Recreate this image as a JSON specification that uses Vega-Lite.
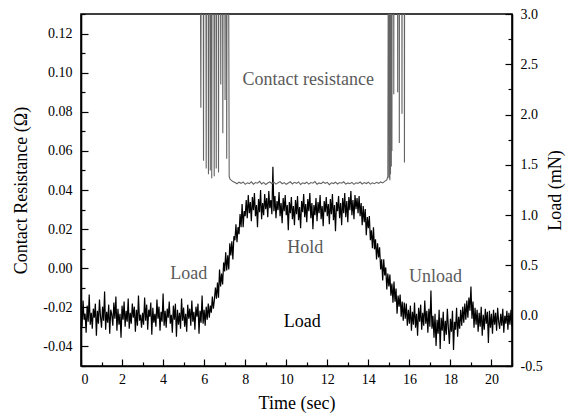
{
"$schema":"https://vega.github.io/schema/vega-lite/v6.json",
"width":431,"height":352,
"padding":{"left":12,"top":7,"right":3,"bottom":3},
"config":{
 "view":{"stroke":"black","strokeWidth":1.6},
 "font":"Liberation Serif",
 "axis":{"labelFont":"Liberation Serif","titleFont":"Liberation Serif","labelFontSize":14,"titleFontSize":18,"titleFontWeight":"normal","labelColor":"black","titleColor":"black","domainColor":"black","domainWidth":1.6,"tickColor":"black","tickWidth":1.2,"grid":false,"labelBound":false,"labelOverlap":false}
},
"datasets":{
"load":[
{"t":0.00,"L":0.08},{"t":0.05,"L":-0.11},{"t":0.10,"L":0.15},{"t":0.15,"L":-0.04},{"t":0.20,"L":0.02},{"t":0.25,"L":-0.17},{"t":0.30,"L":0.10},{"t":0.35,"L":-0.06},{"t":0.40,"L":0.21},{"t":0.45,"L":-0.09},
{"t":0.50,"L":0.03},{"t":0.55,"L":-0.13},{"t":0.60,"L":0.07},{"t":0.65,"L":-0.02},{"t":0.70,"L":0.12},{"t":0.75,"L":-0.20},{"t":0.80,"L":0.05},{"t":0.85,"L":-0.08},{"t":0.90,"L":0.16},{"t":0.95,"L":-0.01},
{"t":1.00,"L":-0.12},{"t":1.05,"L":0.09},{"t":1.10,"L":-0.05},{"t":1.15,"L":0.24},{"t":1.20,"L":-0.14},{"t":1.25,"L":0.04},{"t":1.30,"L":-0.07},{"t":1.35,"L":0.11},{"t":1.40,"L":-0.18},{"t":1.45,"L":0.06},
{"t":1.50,"L":0.01},{"t":1.55,"L":-0.10},{"t":1.60,"L":0.13},{"t":1.65,"L":-0.03},{"t":1.70,"L":0.19},{"t":1.75,"L":-0.15},{"t":1.80,"L":0.07},{"t":1.85,"L":-0.09},{"t":1.90,"L":0.02},{"t":1.95,"L":-0.22},
{"t":2.00,"L":0.10},{"t":2.05,"L":-0.04},{"t":2.10,"L":0.14},{"t":2.15,"L":-0.11},{"t":2.20,"L":0.05},{"t":2.25,"L":-0.06},{"t":2.30,"L":0.17},{"t":2.35,"L":-0.13},{"t":2.40,"L":0.03},{"t":2.45,"L":-0.08},
{"t":2.50,"L":0.12},{"t":2.55,"L":-0.02},{"t":2.60,"L":0.09},{"t":2.65,"L":-0.16},{"t":2.70,"L":0.06},{"t":2.75,"L":-0.10},{"t":2.80,"L":0.20},{"t":2.85,"L":-0.05},{"t":2.90,"L":0.01},{"t":2.95,"L":-0.12},
{"t":3.00,"L":0.03},{"t":3.05,"L":-0.09},{"t":3.10,"L":0.18},{"t":3.15,"L":-0.05},{"t":3.20,"L":0.11},{"t":3.25,"L":-0.14},{"t":3.30,"L":0.06},{"t":3.35,"L":-0.01},{"t":3.40,"L":0.13},{"t":3.45,"L":-0.19},
{"t":3.50,"L":0.08},{"t":3.55,"L":-0.07},{"t":3.60,"L":0.02},{"t":3.65,"L":-0.11},{"t":3.70,"L":0.16},{"t":3.75,"L":-0.03},{"t":3.80,"L":0.09},{"t":3.85,"L":-0.15},{"t":3.90,"L":0.04},{"t":3.95,"L":-0.06},
{"t":4.00,"L":0.22},{"t":4.05,"L":-0.10},{"t":4.10,"L":0.05},{"t":4.15,"L":-0.12},{"t":4.20,"L":0.07},{"t":4.25,"L":-0.02},{"t":4.30,"L":0.14},{"t":4.35,"L":-0.08},{"t":4.40,"L":0.01},{"t":4.45,"L":-0.17},
{"t":4.50,"L":0.10},{"t":4.55,"L":-0.04},{"t":4.60,"L":0.12},{"t":4.65,"L":-0.21},{"t":4.70,"L":0.06},{"t":4.75,"L":-0.09},{"t":4.80,"L":0.03},{"t":4.85,"L":-0.13},{"t":4.90,"L":0.17},{"t":4.95,"L":-0.05},
{"t":5.00,"L":0.08},{"t":5.05,"L":-0.11},{"t":5.10,"L":0.02},{"t":5.15,"L":-0.16},{"t":5.20,"L":0.11},{"t":5.25,"L":-0.03},{"t":5.30,"L":0.07},{"t":5.35,"L":-0.10},{"t":5.40,"L":0.15},{"t":5.45,"L":-0.06},
{"t":5.50,"L":0.04},{"t":5.55,"L":-0.14},{"t":5.60,"L":0.09},{"t":5.65,"L":-0.01},{"t":5.70,"L":0.12},{"t":5.75,"L":-0.18},{"t":5.80,"L":0.05},{"t":5.85,"L":-0.07},{"t":5.90,"L":0.20},{"t":5.95,"L":-0.08},
{"t":6.00,"L":0.06},{"t":6.05,"L":-0.10},{"t":6.10,"L":0.09},{"t":6.15,"L":-0.04},{"t":6.20,"L":0.12},{"t":6.25,"L":-0.02},{"t":6.30,"L":0.10},
{"t":6.35,"L":0.03},{"t":6.40,"L":0.19},{"t":6.45,"L":0.07},{"t":6.50,"L":0.16},{"t":6.55,"L":0.28},{"t":6.60,"L":0.17},{"t":6.65,"L":0.33},{"t":6.70,"L":0.18},
{"t":6.75,"L":0.46},{"t":6.80,"L":0.29},{"t":6.85,"L":0.42},{"t":6.90,"L":0.31},{"t":6.95,"L":0.53},{"t":7.00,"L":0.44},{"t":7.05,"L":0.63},{"t":7.10,"L":0.45},{"t":7.15,"L":0.60},{"t":7.20,"L":0.46},
{"t":7.25,"L":0.72},{"t":7.30,"L":0.60},{"t":7.35,"L":0.74},{"t":7.40,"L":0.56},{"t":7.45,"L":0.79},{"t":7.50,"L":0.75},{"t":7.55,"L":0.91},{"t":7.60,"L":0.73},{"t":7.65,"L":0.88},{"t":7.70,"L":0.81},
{"t":7.75,"L":1.01},{"t":7.80,"L":0.88},{"t":7.85,"L":1.11},{"t":7.90,"L":0.88},{"t":7.95,"L":1.04},{"t":8.00,"L":0.99},
{"t":8.05,"L":1.15},{"t":8.10,"L":0.97},{"t":8.15,"L":1.20},{"t":8.20,"L":1.02},{"t":8.25,"L":1.13},{"t":8.30,"L":0.94},{"t":8.35,"L":1.18},{"t":8.40,"L":1.05},{"t":8.45,"L":1.22},{"t":8.50,"L":0.99},
{"t":8.55,"L":1.10},{"t":8.60,"L":0.88},{"t":8.65,"L":1.16},{"t":8.70,"L":1.03},{"t":8.75,"L":1.25},{"t":8.80,"L":0.96},{"t":8.85,"L":1.12},{"t":8.90,"L":1.00},{"t":8.95,"L":1.21},{"t":9.00,"L":1.06},
{"t":9.05,"L":1.17},{"t":9.10,"L":0.98},{"t":9.15,"L":1.24},{"t":9.20,"L":1.07},{"t":9.25,"L":1.15},{"t":9.30,"L":1.01},{"t":9.35,"L":1.48},{"t":9.40,"L":1.04},{"t":9.45,"L":1.19},{"t":9.50,"L":0.97},
{"t":9.55,"L":1.14},{"t":9.60,"L":1.05},{"t":9.65,"L":1.23},{"t":9.70,"L":0.99},{"t":9.75,"L":1.12},{"t":9.80,"L":0.92},{"t":9.85,"L":1.17},{"t":9.90,"L":1.04},{"t":9.95,"L":1.20},{"t":10.00,"L":1.00},
{"t":10.05,"L":1.10},{"t":10.10,"L":0.85},{"t":10.15,"L":1.13},{"t":10.20,"L":1.02},{"t":10.25,"L":1.18},{"t":10.30,"L":0.96},{"t":10.35,"L":1.09},{"t":10.40,"L":0.90},{"t":10.45,"L":1.15},{"t":10.50,"L":1.01},
{"t":10.55,"L":1.19},{"t":10.60,"L":0.95},{"t":10.65,"L":1.08},{"t":10.70,"L":0.87},{"t":10.75,"L":1.14},{"t":10.80,"L":1.03},{"t":10.85,"L":1.21},{"t":10.90,"L":0.98},{"t":10.95,"L":1.11},{"t":11.00,"L":0.93},
{"t":11.05,"L":1.16},{"t":11.10,"L":1.04},{"t":11.15,"L":1.22},{"t":11.20,"L":0.97},{"t":11.25,"L":1.12},{"t":11.30,"L":0.86},{"t":11.35,"L":1.10},{"t":11.40,"L":1.00},{"t":11.45,"L":1.17},{"t":11.50,"L":0.94},
{"t":11.55,"L":1.13},{"t":11.60,"L":1.02},{"t":11.65,"L":1.20},{"t":11.70,"L":0.96},{"t":11.75,"L":1.09},{"t":11.80,"L":0.89},{"t":11.85,"L":1.14},{"t":11.90,"L":1.03},{"t":11.95,"L":1.18},{"t":12.00,"L":0.99},
{"t":12.05,"L":1.11},{"t":12.10,"L":0.91},{"t":12.15,"L":1.16},{"t":12.20,"L":1.01},{"t":12.25,"L":1.21},{"t":12.30,"L":0.95},{"t":12.35,"L":1.10},{"t":12.40,"L":0.84},{"t":12.45,"L":1.13},{"t":12.50,"L":1.04},
{"t":12.55,"L":1.19},{"t":12.60,"L":0.97},{"t":12.65,"L":1.12},{"t":12.70,"L":0.90},{"t":12.75,"L":1.17},{"t":12.80,"L":1.02},{"t":12.85,"L":1.22},{"t":12.90,"L":0.98},{"t":12.95,"L":1.14},{"t":13.00,"L":0.93},
{"t":13.05,"L":1.18},{"t":13.10,"L":1.05},{"t":13.15,"L":1.24},{"t":13.20,"L":1.00},{"t":13.25,"L":1.15},{"t":13.30,"L":0.96},{"t":13.35,"L":1.20},{"t":13.40,"L":1.06},{"t":13.45,"L":1.17},
{"t":13.50,"L":1.02},{"t":13.55,"L":1.19},{"t":13.60,"L":0.99},{"t":13.65,"L":1.12},{"t":13.70,"L":0.90},{"t":13.75,"L":1.09},{"t":13.80,"L":0.93},{"t":13.85,"L":1.06},{"t":13.90,"L":0.80},{"t":13.95,"L":0.98},
{"t":14.00,"L":0.87},{"t":14.05,"L":0.99},{"t":14.10,"L":0.75},{"t":14.15,"L":0.85},{"t":14.20,"L":0.67},{"t":14.25,"L":0.88},{"t":14.30,"L":0.66},{"t":14.35,"L":0.76},{"t":14.40,"L":0.56},{"t":14.45,"L":0.72},
{"t":14.50,"L":0.58},{"t":14.55,"L":0.68},{"t":14.60,"L":0.46},{"t":14.65,"L":0.56},{"t":14.70,"L":0.35},{"t":14.75,"L":0.56},{"t":14.80,"L":0.40},{"t":14.85,"L":0.48},{"t":14.90,"L":0.26},{"t":14.95,"L":0.42},
{"t":15.00,"L":0.29},{"t":15.05,"L":0.41},{"t":15.10,"L":0.20},{"t":15.15,"L":0.32},{"t":15.20,"L":0.13},{"t":15.25,"L":0.34},{"t":15.30,"L":0.14},{"t":15.35,"L":0.27},{"t":15.40,"L":0.02},{"t":15.45,"L":0.20},
{"t":15.50,"L":0.09},{"t":15.55,"L":0.21},{"t":15.60,"L":-0.01},{"t":15.65,"L":0.14},{"t":15.70,"L":-0.05},{"t":15.75,"L":0.13},{"t":15.80,"L":-0.03},{"t":15.85,"L":0.12},{"t":15.90,"L":-0.10},{"t":15.95,"L":0.06},
{"t":16.00,"L":-0.08},{"t":16.05,"L":0.10},{"t":16.10,"L":-0.15},{"t":16.15,"L":0.04},{"t":16.20,"L":-0.09},{"t":16.25,"L":0.13},{"t":16.30,"L":-0.12},{"t":16.35,"L":0.02},{"t":16.40,"L":-0.20},{"t":16.45,"L":0.08},
{"t":16.50,"L":-0.06},{"t":16.55,"L":0.11},{"t":16.60,"L":-0.14},{"t":16.65,"L":0.03},{"t":16.70,"L":-0.10},{"t":16.75,"L":0.15},{"t":16.80,"L":-0.08},{"t":16.85,"L":0.05},{"t":16.90,"L":-0.17},{"t":16.95,"L":0.07},
{"t":17.00,"L":-0.11},{"t":17.05,"L":0.25},{"t":17.10,"L":-0.13},{"t":17.15,"L":0.00},{"t":17.20,"L":-0.22},{"t":17.25,"L":0.02},{"t":17.30,"L":-0.30},{"t":17.35,"L":-0.04},{"t":17.40,"L":-0.18},{"t":17.45,"L":0.06},
{"t":17.50,"L":-0.33},{"t":17.55,"L":-0.02},{"t":17.60,"L":-0.15},{"t":17.65,"L":0.04},{"t":17.70,"L":-0.25},{"t":17.75,"L":-0.05},{"t":17.80,"L":-0.19},{"t":17.85,"L":0.07},{"t":17.90,"L":-0.12},{"t":17.95,"L":-0.28},
{"t":18.00,"L":-0.03},{"t":18.05,"L":-0.16},{"t":18.10,"L":0.05},{"t":18.15,"L":-0.34},{"t":18.20,"L":-0.06},{"t":18.25,"L":-0.14},{"t":18.30,"L":0.08},{"t":18.35,"L":-0.21},{"t":18.40,"L":-0.01},{"t":18.45,"L":-0.13},
{"t":18.50,"L":0.06},{"t":18.55,"L":-0.10},{"t":18.60,"L":0.09},{"t":18.65,"L":-0.07},{"t":18.70,"L":0.12},{"t":18.75,"L":-0.04},{"t":18.80,"L":0.15},{"t":18.85,"L":-0.02},{"t":18.90,"L":0.18},{"t":18.95,"L":0.05},
{"t":19.00,"L":0.29},{"t":19.05,"L":-0.03},{"t":19.10,"L":0.14},{"t":19.15,"L":-0.12},{"t":19.20,"L":0.08},{"t":19.25,"L":-0.09},{"t":19.30,"L":0.06},{"t":19.35,"L":-0.16},{"t":19.40,"L":0.03},{"t":19.45,"L":-0.11},
{"t":19.50,"L":0.09},{"t":19.55,"L":-0.20},{"t":19.60,"L":0.01},{"t":19.65,"L":-0.14},{"t":19.70,"L":0.07},{"t":19.75,"L":-0.08},{"t":19.80,"L":0.04},{"t":19.85,"L":-0.27},{"t":19.90,"L":0.05},{"t":19.95,"L":-0.12},
{"t":20.00,"L":0.02},{"t":20.05,"L":-0.18},{"t":20.10,"L":0.06},{"t":20.15,"L":-0.09},{"t":20.20,"L":0.03},{"t":20.25,"L":-0.15},{"t":20.30,"L":0.08},{"t":20.35,"L":-0.06},{"t":20.40,"L":-0.13},{"t":20.45,"L":0.02},
{"t":20.50,"L":-0.10},{"t":20.55,"L":0.07},{"t":20.60,"L":-0.17},{"t":20.65,"L":0.00},{"t":20.70,"L":-0.08},{"t":20.75,"L":0.05},{"t":20.80,"L":-0.14},{"t":20.85,"L":0.03},{"t":20.90,"L":-0.09},{"t":20.95,"L":0.06},
{"t":21.00,"L":-0.11}
],
"res":[
{"t":5.80,"R":0.2},{"t":5.84,"R":0.082},{"t":5.86,"R":0.2},{"t":5.95,"R":0.2},{"t":5.97,"R":0.055},{"t":5.99,"R":0.2},{"t":6.08,"R":0.2},{"t":6.10,"R":0.051},{"t":6.12,"R":0.2},
{"t":6.19,"R":0.2},{"t":6.21,"R":0.048},{"t":6.23,"R":0.2},{"t":6.28,"R":0.2},{"t":6.30,"R":0.050},{"t":6.32,"R":0.2},{"t":6.35,"R":0.2},{"t":6.37,"R":0.046},{"t":6.39,"R":0.2},
{"t":6.47,"R":0.2},{"t":6.49,"R":0.047},{"t":6.51,"R":0.2},{"t":6.57,"R":0.2},{"t":6.59,"R":0.051},{"t":6.61,"R":0.2},{"t":6.68,"R":0.2},{"t":6.70,"R":0.049},{"t":6.72,"R":0.2},
{"t":6.79,"R":0.2},{"t":6.81,"R":0.094},{"t":6.83,"R":0.2},{"t":6.89,"R":0.2},{"t":6.91,"R":0.069},{"t":6.93,"R":0.2},{"t":7.00,"R":0.2},{"t":7.02,"R":0.086},{"t":7.04,"R":0.2},
{"t":7.08,"R":0.2},{"t":7.10,"R":0.056},{"t":7.12,"R":0.2},{"t":7.18,"R":0.2},{"t":7.22,"R":0.047},{"t":7.26,"R":0.0455},
{"t":7.3,"R":0.0452},{"t":7.4,"R":0.0443},{"t":7.5,"R":0.0438},{"t":7.6,"R":0.0432},{"t":7.7,"R":0.0440},{"t":7.8,"R":0.0434},{"t":7.9,"R":0.0441},{"t":8.0,"R":0.0429},{"t":8.1,"R":0.0437},{"t":8.2,"R":0.0433},
{"t":8.3,"R":0.0442},{"t":8.4,"R":0.0430},{"t":8.5,"R":0.0438},{"t":8.6,"R":0.0435},{"t":8.7,"R":0.0444},{"t":8.8,"R":0.0431},{"t":8.9,"R":0.0439},{"t":9.0,"R":0.0428},{"t":9.1,"R":0.0436},{"t":9.2,"R":0.0441},
{"t":9.3,"R":0.0433},{"t":9.4,"R":0.0440},{"t":9.5,"R":0.0430},{"t":9.6,"R":0.0437},{"t":9.7,"R":0.0443},{"t":9.8,"R":0.0432},{"t":9.9,"R":0.0438},{"t":10.0,"R":0.0429},{"t":10.1,"R":0.0436},{"t":10.2,"R":0.0442},
{"t":10.3,"R":0.0431},{"t":10.4,"R":0.0439},{"t":10.5,"R":0.0434},{"t":10.6,"R":0.0441},{"t":10.7,"R":0.0428},{"t":10.8,"R":0.0437},{"t":10.9,"R":0.0433},{"t":11.0,"R":0.0440},{"t":11.1,"R":0.0430},{"t":11.2,"R":0.0438},
{"t":11.3,"R":0.0435},{"t":11.4,"R":0.0443},{"t":11.5,"R":0.0429},{"t":11.6,"R":0.0436},{"t":11.7,"R":0.0432},{"t":11.8,"R":0.0441},{"t":11.9,"R":0.0434},{"t":12.0,"R":0.0439},{"t":12.1,"R":0.0427},{"t":12.2,"R":0.0437},
{"t":12.3,"R":0.0433},{"t":12.4,"R":0.0440},{"t":12.5,"R":0.0431},{"t":12.6,"R":0.0438},{"t":12.7,"R":0.0435},{"t":12.8,"R":0.0442},{"t":12.9,"R":0.0430},{"t":13.0,"R":0.0436},{"t":13.1,"R":0.0432},{"t":13.2,"R":0.0439},
{"t":13.3,"R":0.0429},{"t":13.4,"R":0.0437},{"t":13.5,"R":0.0434},{"t":13.6,"R":0.0441},{"t":13.7,"R":0.0431},{"t":13.8,"R":0.0438},{"t":13.9,"R":0.0433},{"t":14.0,"R":0.0440},{"t":14.1,"R":0.0430},{"t":14.2,"R":0.0437},
{"t":14.3,"R":0.0432},{"t":14.4,"R":0.0439},{"t":14.5,"R":0.0434},{"t":14.6,"R":0.0441},{"t":14.7,"R":0.0436},{"t":14.8,"R":0.0444},{"t":14.9,"R":0.0452},
{"t":14.95,"R":0.047},{"t":14.98,"R":0.2},{"t":15.00,"R":0.2},{"t":15.01,"R":0.046},{"t":15.02,"R":0.2},{"t":15.04,"R":0.2},{"t":15.05,"R":0.045},{"t":15.06,"R":0.2},
{"t":15.07,"R":0.2},{"t":15.08,"R":0.048},{"t":15.09,"R":0.2},{"t":15.11,"R":0.2},{"t":15.12,"R":0.052},{"t":15.13,"R":0.2},{"t":15.14,"R":0.2},{"t":15.15,"R":0.060},{"t":15.16,"R":0.2},
{"t":15.23,"R":0.2},{"t":15.24,"R":0.089},{"t":15.25,"R":0.2},{"t":15.42,"R":0.2},{"t":15.43,"R":0.090},{"t":15.44,"R":0.2},{"t":15.50,"R":0.2},{"t":15.51,"R":0.064},{"t":15.52,"R":0.2},
{"t":15.63,"R":0.2},{"t":15.64,"R":0.079},{"t":15.65,"R":0.2},{"t":15.75,"R":0.2},{"t":15.76,"R":0.054},{"t":15.77,"R":0.2},{"t":15.90,"R":0.2}
],
"notes":[
{"t":11.07,"R":0.0964,"label":"Contact resistance","role":"resistance"},
{"t":10.93,"R":0.0103,"label":"Hold","role":"phase"},
{"t":5.25,"R":-0.0031,"label":"Load","role":"phase"},
{"t":17.27,"R":-0.0046,"label":"Unload","role":"phase"},
{"t":10.78,"R":-0.0277,"label":"Load","role":"load"}
]
},
"encoding":{
 "x":{"field":"t","type":"quantitative","scale":{"domain":[0,21],"nice":false,"zero":false},
   "axis":{"title":"Time (sec)","values":[0,1,2,3,4,5,6,7,8,9,10,11,12,13,14,15,16,17,18,19,20,21],
     "labelFont":"Liberation Serif","labelFontSize":14,"titleFont":"Liberation Serif","titleFontSize":18,"titleFontWeight":"normal",
     "labelExpr":"datum.value % 2 == 0 ? datum.label : ''",
     "tickSize":{"condition":{"test":"datum.value % 2 == 0","value":-7},"value":-4},
     "labelPadding":13,"titlePadding":5}}
},
"layer":[
 {
  "data":{"name":"load"},
  "mark":{"type":"line","color":"black","strokeWidth":1.2,"clip":true},
  "encoding":{
   "y":{"field":"L","type":"quantitative","scale":{"domain":[-0.5,3.0],"nice":false,"zero":false},
     "axis":{"orient":"right","title":"Load (mN)","titleAngle":270,"titleBaseline":"top",
       "labelFont":"Liberation Serif","labelFontSize":14,"titleFont":"Liberation Serif","titleFontSize":18,"titleFontWeight":"normal",
       "values":[-0.5,-0.25,0,0.25,0.5,0.75,1,1.25,1.5,1.75,2,2.25,2.5,2.75,3],
       "labelExpr":"abs(round(datum.value*4)) % 2 == 0 ? (datum.value < -0.001 ? '-' : '') + format(abs(datum.value), '.1f') : ''",
       "tickSize":{"condition":{"test":"abs(round(datum.value*4)) % 2 == 0","value":-7},"value":-4},
       "labelPadding":15,"titlePadding":4}}
  }
 },
 {
  "encoding":{
   "y":{"field":"R","type":"quantitative","scale":{"domain":[-0.05,0.13],"nice":false,"zero":false},
     "axis":{"orient":"left","title":"Contact Resistance (Ω)",
       "labelFont":"Liberation Serif","labelFontSize":14,"titleFont":"Liberation Serif","titleFontSize":18,"titleFontWeight":"normal",
       "values":[-0.05,-0.04,-0.03,-0.02,-0.01,0,0.01,0.02,0.03,0.04,0.05,0.06,0.07,0.08,0.09,0.1,0.11,0.12,0.13],
       "labelExpr":"abs(round(datum.value*100)) % 2 == 0 ? (datum.value < -0.001 ? '-' : '') + format(abs(datum.value), '.2f') : ''",
       "tickSize":{"condition":{"test":"abs(round(datum.value*100)) % 2 == 0","value":-7},"value":-4},
       "labelPadding":16,"titlePadding":12}}
  },
  "layer":[
   {
    "data":{"name":"res"},
    "mark":{"type":"line","color":"#646464","strokeWidth":1.1,"clip":true}
   },
   {
    "data":{"name":"notes"},
    "transform":[{"filter":"datum.role != 'load'"}],
    "mark":{"type":"text","font":"Liberation Serif","fontSize":18,"color":"#5a5a5a","align":"center","baseline":"middle"},
    "encoding":{"text":{"field":"label"}}
   },
   {
    "data":{"name":"notes"},
    "transform":[{"filter":"datum.role == 'load'"}],
    "mark":{"type":"text","font":"Liberation Serif","fontSize":18,"color":"black","align":"center","baseline":"middle"},
    "encoding":{"text":{"field":"label"}}
   }
  ]
 }
],
"resolve":{"scale":{"y":"independent"}}
}
